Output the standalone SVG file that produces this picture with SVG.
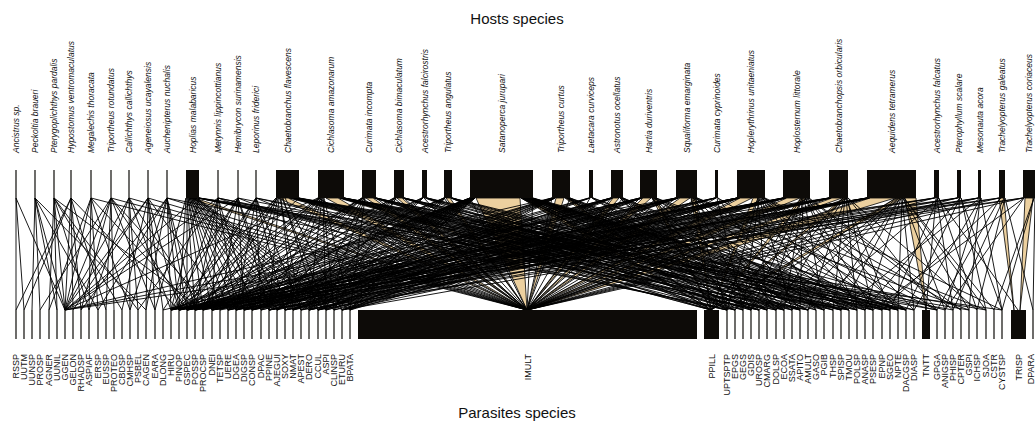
<svg xmlns="http://www.w3.org/2000/svg" width="1035" height="428" viewBox="0 0 1035 428">
<style>
.t{font-family:"Liberation Sans",Arial,sans-serif;font-size:15px;fill:#111;text-anchor:middle}
.h{font-family:"Liberation Sans",Arial,sans-serif;font-size:8.5px;font-style:italic;fill:#111}
.p{font-family:"Liberation Sans",Arial,sans-serif;font-size:9px;fill:#111;text-anchor:end}
.bar{fill:#0d0b08}
.tk{stroke:#0d0b08;stroke-width:1.2}
.k{fill:none;stroke:#000;stroke-width:0.9}
.w{fill:#ecd09f;stroke:#000;stroke-width:0.8}
</style>
<rect width="1035" height="428" fill="#fff"/>
<text class="t" x="517" y="24">Hosts species</text>
<text class="t" x="517" y="418">Parasites species</text>

<g id="links">
<polygon class="w" points="189,198 195,198 527,310"/>
<polygon class="w" points="278,198 288,198 527,310"/>
<polygon class="w" points="289,198 294,198 711,310"/>
<polygon class="w" points="326,198 338,198 527,310"/>
<polygon class="w" points="339,198 344,198 711,310"/>
<polygon class="w" points="366,198 373,198 527,310"/>
<polygon class="w" points="397,198 402,198 527,310"/>
<polygon class="w" points="446,198 450,198 527,310"/>
<polygon class="w" points="476,198 520,198 527,310"/>
<polygon class="w" points="521,198 529,198 711,310"/>
<polygon class="w" points="556,198 564,198 527,310"/>
<polygon class="w" points="565,198 569,198 711,310"/>
<polygon class="w" points="613,198 619,198 527,310"/>
<polygon class="w" points="643,198 651,198 527,310"/>
<polygon class="w" points="652,198 656,198 711,310"/>
<polygon class="w" points="680,198 690,198 527,310"/>
<polygon class="w" points="691,198 696,198 711,310"/>
<polygon class="w" points="740,198 752,198 527,310"/>
<polygon class="w" points="753,198 758,198 711,310"/>
<polygon class="w" points="787,198 800,198 527,310"/>
<polygon class="w" points="801,198 806,198 711,310"/>
<polygon class="w" points="832,198 842,198 527,310"/>
<polygon class="w" points="843,198 847,198 711,310"/>
<polygon class="w" points="870,198 895,198 527,310"/>
<polygon class="w" points="896,198 903,198 711,310"/>
<polygon class="w" points="905,198 916,198 926,310"/>
<polygon class="w" points="999,198 1004,198 1014,310"/>
<polygon class="w" points="1025,198 1033,198 1020,310"/>
<path class="k" d="M16 198L16 310M16 198L65 310M16 198L24 310"/>
<path class="k" d="M35 198L32 310M35 198L65 310M35 198L40 310M35 198L146 310M35 198L57 310M35 198L98 310"/>
<path class="k" d="M54 198L49 310M54 198L65 310M54 198L57 310M54 198L122 310M54 198L203 310M54 198L89 310M54 198L138 310"/>
<path class="k" d="M71 198L65 310M71 198L73 310M71 198L81 310M71 198L24 310M71 198L179 310M71 198L106 310M71 198L16 310"/>
<path class="k" d="M91 198L65 310M91 198L89 310M91 198L98 310M91 198L195 310M91 198L527 310M91 198L49 310M91 198L130 310"/>
<path class="k" d="M111 198L65 310M111 198L106 310M111 198L114 310M111 198L187 310M111 198L527 310M111 198L40 310M111 198L155 310M111 198L81 310M111 198L212 310"/>
<path class="k" d="M129 198L65 310M129 198L130 310M129 198L138 310M129 198L171 310M129 198L527 310M129 198L89 310M129 198L203 310"/>
<path class="k" d="M148 198L65 310M148 198L146 310M148 198L155 310M148 198L163 310M148 198L73 310M148 198L527 310M148 198L122 310M148 198L179 310M148 198L228 310"/>
<path class="k" d="M167 198L171 310M167 198L179 310M167 198L187 310M167 198L527 310M167 198L130 310M167 198L81 310M167 198L735 310M167 198L146 310M167 198L98 310M167 198L195 310"/>
<path class="k" d="M186 198L179 310M187 198L187 310M187 198L195 310M188 198L203 310M188 198L212 310M189 198L220 310M189 198L228 310M190 198L236 310M190 198L244 310M191 198L252 310M191 198L261 310M192 198L269 310M192 198L277 310M193 198L285 310M193 198L293 310M194 198L301 310M194 198L309 310M195 198L318 310M195 198L326 310M196 198L334 310M196 198L342 310M197 198L350 310M197 198L65 310M198 198L727 310M198 198L784 310M199 198L849 310M199 198L171 310M186 198L155 310M198 198L759 310M198 198L808 310M199 198L890 310M199 198L1002 310"/>
<path class="k" d="M218 198L179 310M218 198L212 310M218 198L252 310M218 198L527 310M218 198L776 310M218 198L65 310M218 198L138 310M218 198L195 310M218 198L236 310M218 198L727 310"/>
<path class="k" d="M238 198L187 310M238 198L244 310M238 198L277 310M238 198L527 310M238 198L65 310M238 198L800 310M238 198L163 310M238 198L220 310M238 198L269 310M238 198L171 310"/>
<path class="k" d="M256 198L179 310M256 198L261 310M256 198L301 310M256 198L527 310M256 198L849 310M256 198L203 310M256 198L187 310M256 198L236 310M256 198L285 310M256 198L759 310"/>
<path class="k" d="M277 198L203 310M277 198L236 310M279 198L269 310M281 198L293 310M283 198L318 310M285 198L342 310M290 198L727 310M292 198L759 310M294 198L792 310M296 198L841 310M297 198L890 310M298 198L937 310M299 198L179 310M276 198L171 310M276 198L187 310M277 198L212 310M278 198L252 310M280 198L301 310M282 198L326 310M293 198L743 310M295 198L776 310M296 198L808 310M297 198L857 310M298 198L906 310M299 198L969 310M299 198L527 310"/>
<path class="k" d="M319 198L187 310M320 198L212 310M321 198L252 310M322 198L285 310M323 198L326 310M324 198L350 310M340 198L735 310M341 198L767 310M342 198L808 310M343 198L857 310M344 198L898 310M344 198L953 310M318 198L65 310M318 198L171 310M319 198L195 310M320 198L228 310M321 198L269 310M322 198L309 310M323 198L334 310M341 198L727 310M342 198L751 310M342 198L784 310M343 198L833 310M343 198L873 310M344 198L914 310M344 198L986 310M318 198L527 310"/>
<path class="k" d="M362 198L195 310M363 198L228 310M364 198L309 310M374 198L751 310M375 198L816 310M376 198L882 310M362 198L171 310M362 198L187 310M363 198L212 310M363 198L244 310M364 198L277 310M365 198L326 310M365 198L350 310M374 198L735 310M375 198L767 310M375 198L800 310M376 198L849 310M376 198L898 310M362 198L527 310M376 198L527 310"/>
<path class="k" d="M394 198L179 310M395 198L261 310M396 198L334 310M403 198L743 310M404 198L824 310M404 198L906 310M394 198L195 310M395 198L228 310M395 198L293 310M396 198L318 310M403 198L759 310M403 198L792 310M404 198L841 310M404 198L890 310M394 198L527 310M404 198L527 310"/>
<path class="k" d="M424 198L527 310M422 198L203 310M423 198L277 310M426 198L784 310M427 198L865 310M425 198L711 310M422 198L171 310M423 198L236 310M423 198L309 310M426 198L759 310M427 198L833 310M427 198L937 310"/>
<path class="k" d="M444 198L171 310M445 198L244 310M445 198L318 310M451 198L711 310M452 198L800 310M452 198L873 310M444 198L187 310M444 198L212 310M445 198L277 310M445 198L350 310M451 198L735 310M451 198L767 310M452 198L841 310M452 198L906 310M444 198L527 310"/>
<path class="k" d="M470 198L187 310M471 198L220 310M472 198L269 310M473 198L301 310M474 198L342 310M523 198L735 310M525 198L767 310M527 198L792 310M529 198L833 310M530 198L857 310M531 198L890 310M532 198L914 310M533 198L945 310M470 198L171 310M470 198L179 310M470 198L195 310M471 198L203 310M471 198L212 310M471 198L228 310M472 198L236 310M472 198L244 310M472 198L252 310M473 198L261 310M473 198L277 310M473 198L285 310M474 198L293 310M474 198L309 310M474 198L318 310M475 198L326 310M475 198L334 310M475 198L350 310M521 198L727 310M522 198L743 310M522 198L751 310M523 198L759 310M524 198L776 310M524 198L784 310M526 198L800 310M526 198L808 310M527 198L816 310M528 198L824 310M528 198L841 310M529 198L849 310M530 198L865 310M531 198L873 310M531 198L882 310M532 198L898 310M532 198L906 310M470 198L527 310M533 198L527 310"/>
<path class="k" d="M552 198L195 310M553 198L236 310M554 198L293 310M555 198L326 310M567 198L751 310M568 198L808 310M570 198L841 310M552 198L65 310M552 198L171 310M553 198L203 310M553 198L252 310M554 198L277 310M555 198L309 310M555 198L350 310M566 198L727 310M567 198L767 310M567 198L784 310M568 198L824 310M569 198L857 310M570 198L890 310M552 198L527 310M570 198L527 310"/>
<path class="k" d="M590 198L527 310M589 198L212 310M590 198L285 310M592 198L776 310M593 198L865 310M589 198L179 310M590 198L244 310M592 198L808 310M593 198L898 310"/>
<path class="k" d="M611 198L179 310M612 198L252 310M612 198L318 310M620 198L727 310M622 198L824 310M623 198L898 310M611 198L187 310M611 198L212 310M611 198L236 310M612 198L269 310M612 198L293 310M613 198L342 310M620 198L743 310M621 198L767 310M621 198L800 310M622 198L849 310M623 198L873 310M611 198L527 310M623 198L527 310"/>
<path class="k" d="M640 198L163 310M641 198L228 310M642 198L301 310M642 198L350 310M652 198L759 310M654 198L849 310M656 198L969 310M640 198L179 310M640 198L195 310M641 198L244 310M641 198L269 310M642 198L318 310M652 198L735 310M653 198L784 310M654 198L824 310M655 198L882 310M656 198L906 310M640 198L527 310M657 198L527 310"/>
<path class="k" d="M676 198L187 310M677 198L261 310M678 198L334 310M693 198L784 310M695 198L873 310M697 198L986 310M676 198L65 310M676 198L171 310M676 198L212 310M677 198L228 310M677 198L252 310M678 198L293 310M678 198L318 310M679 198L342 310M691 198L727 310M692 198L751 310M693 198L776 310M694 198L816 310M695 198L857 310M696 198L898 310M697 198L937 310M676 198L527 310M697 198L527 310"/>
<path class="k" d="M716 198L527 310M715 198L203 310M716 198L277 310M717 198L743 310M718 198L906 310M715 198L179 310M715 198L236 310M716 198L318 310M718 198L800 310"/>
<path class="k" d="M737 198L171 310M738 198L212 310M738 198L244 310M739 198L309 310M739 198L342 310M758 198L767 310M760 198L816 310M762 198L882 310M764 198L937 310M765 198L1002 310M737 198L179 310M737 198L187 310M737 198L195 310M738 198L228 310M738 198L261 310M739 198L285 310M739 198L301 310M739 198L326 310M740 198L350 310M758 198L727 310M759 198L743 310M759 198L792 310M761 198L841 310M762 198L865 310M763 198L906 310M764 198L961 310M737 198L527 310M765 198L527 310"/>
<path class="k" d="M783 198L195 310M784 198L236 310M785 198L269 310M786 198L326 310M801 198L735 310M803 198L800 310M805 198L857 310M807 198L914 310M809 198L961 310M783 198L171 310M783 198L187 310M784 198L212 310M784 198L252 310M785 198L285 310M785 198L309 310M786 198L342 310M802 198L751 310M802 198L767 310M803 198L784 310M804 198L824 310M805 198L873 310M806 198L898 310M808 198L953 310M783 198L527 310M810 198L527 310"/>
<path class="k" d="M829 198L220 310M830 198L293 310M843 198L751 310M845 198L833 310M846 198L890 310M848 198L977 310M829 198L65 310M829 198L179 310M829 198L203 310M830 198L244 310M830 198L269 310M831 198L309 310M831 198L334 310M843 198L735 310M844 198L776 310M845 198L808 310M846 198L857 310M847 198L873 310M848 198L937 310M829 198L527 310M848 198L527 310"/>
<path class="k" d="M867 198L187 310M868 198L252 310M869 198L318 310M898 198L776 310M900 198L841 310M902 198L898 310M903 198L945 310M904 198L994 310M867 198L171 310M867 198L195 310M867 198L212 310M868 198L236 310M868 198L269 310M869 198L285 310M869 198L309 310M870 198L342 310M896 198L727 310M897 198L759 310M899 198L792 310M900 198L824 310M901 198L865 310M902 198L914 310M903 198L969 310M904 198L986 310M867 198L527 310"/>
<path class="k" d="M934 198L527 310M935 198L212 310M936 198L926 310M937 198L953 310M938 198L1018 310M939 198L808 310M934 198L179 310M935 198L269 310M938 198L890 310M939 198L977 310"/>
<path class="k" d="M957 198L527 310M958 198L244 310M959 198L961 310M960 198L865 310M961 198L986 310M957 198L195 310M958 198L318 310M960 198L906 310M961 198L1002 310"/>
<path class="k" d="M978 198L527 310M979 198L285 310M980 198L969 310M981 198L914 310M981 198L1002 310M978 198L228 310M979 198L342 310M980 198L841 310M981 198L945 310"/>
<path class="k" d="M999 198L527 310M1000 198L937 310M1005 198L977 310M1005 198L1033 310M999 198L187 310M1000 198L269 310M1001 198L882 310M1004 198L953 310"/>
<path class="k" d="M1023 198L527 310M1024 198L945 310M1034 198L994 310M1023 198L212 310M1023 198L301 310M1024 198L873 310M1034 198L1002 310M1035 198L1033 310"/>
</g>

<g id="hosts">
<g id="h01"><line class="tk" x1="16" y1="170" x2="16" y2="198"/><text class="h" transform="translate(19,153) rotate(-90)">Ancistrus sp.</text></g>
<g id="h02"><line class="tk" x1="35" y1="170" x2="35" y2="198"/><text class="h" transform="translate(38,153) rotate(-90)">Peckoltia braueri</text></g>
<g id="h03"><line class="tk" x1="54" y1="170" x2="54" y2="198"/><text class="h" transform="translate(57,153) rotate(-90)">Pterygoplichthys pardalis</text></g>
<g id="h04"><line class="tk" x1="71" y1="170" x2="71" y2="198"/><text class="h" transform="translate(74,153) rotate(-90)">Hypostomus ventromaculatus</text></g>
<g id="h05"><line class="tk" x1="91" y1="170" x2="91" y2="198"/><text class="h" transform="translate(94,153) rotate(-90)">Megalechis thoracata</text></g>
<g id="h06"><line class="tk" x1="111" y1="170" x2="111" y2="198"/><text class="h" transform="translate(114,153) rotate(-90)">Triportheus rotundatus</text></g>
<g id="h07"><line class="tk" x1="129" y1="170" x2="129" y2="198"/><text class="h" transform="translate(132,153) rotate(-90)">Callichthys callichthys</text></g>
<g id="h08"><line class="tk" x1="148" y1="170" x2="148" y2="198"/><text class="h" transform="translate(151,153) rotate(-90)">Ageneiosus ucayalensis</text></g>
<g id="h09"><line class="tk" x1="167" y1="170" x2="167" y2="198"/><text class="h" transform="translate(170,153) rotate(-90)">Auchenipterus nuchalis</text></g>
<g id="h10"><rect class="bar" x="186" y="170" width="13" height="28"/><text class="h" transform="translate(195.5,153) rotate(-90)">Hoplias malabaricus</text></g>
<g id="h11"><line class="tk" x1="218" y1="170" x2="218" y2="198"/><text class="h" transform="translate(221,153) rotate(-90)">Metynnis lippincottianus</text></g>
<g id="h12"><line class="tk" x1="238" y1="170" x2="238" y2="198"/><text class="h" transform="translate(241,153) rotate(-90)">Hemibrycon surinamensis</text></g>
<g id="h13"><line class="tk" x1="256" y1="170" x2="256" y2="198"/><text class="h" transform="translate(259,153) rotate(-90)">Leporinus friderici</text></g>
<g id="h14"><rect class="bar" x="276" y="170" width="23" height="28"/><text class="h" transform="translate(290.5,153) rotate(-90)">Chaetobranchus flavescens</text></g>
<g id="h15"><rect class="bar" x="318" y="170" width="26" height="28"/><text class="h" transform="translate(334,153) rotate(-90)">Cichlasoma amazonarum</text></g>
<g id="h16"><rect class="bar" x="362" y="170" width="14" height="28"/><text class="h" transform="translate(372,153) rotate(-90)">Curimata incompta</text></g>
<g id="h17"><rect class="bar" x="394" y="170" width="10" height="28"/><text class="h" transform="translate(402,153) rotate(-90)">Cichlasoma bimaculatum</text></g>
<g id="h18"><rect class="bar" x="422" y="170" width="5" height="28"/><text class="h" transform="translate(427.5,153) rotate(-90)">Acestrorhynchus falcirostris</text></g>
<g id="h19"><rect class="bar" x="444" y="170" width="8" height="28"/><text class="h" transform="translate(451,153) rotate(-90)">Triportheus angulatus</text></g>
<g id="h20"><rect class="bar" x="470" y="170" width="63" height="28"/><text class="h" transform="translate(504.5,153) rotate(-90)">Satanoperca jurupari</text></g>
<g id="h21"><rect class="bar" x="552" y="170" width="18" height="28"/><text class="h" transform="translate(564,153) rotate(-90)">Triportheus curtus</text></g>
<g id="h22"><rect class="bar" x="589" y="170" width="4" height="28"/><text class="h" transform="translate(594,153) rotate(-90)">Laetacara curviceps</text></g>
<g id="h23"><rect class="bar" x="611" y="170" width="12" height="28"/><text class="h" transform="translate(620,153) rotate(-90)">Astronotus ocellatus</text></g>
<g id="h24"><rect class="bar" x="640" y="170" width="17" height="28"/><text class="h" transform="translate(651.5,153) rotate(-90)">Hartia duriventris</text></g>
<g id="h25"><rect class="bar" x="676" y="170" width="21" height="28"/><text class="h" transform="translate(689.5,153) rotate(-90)">Squaliforma emarginata</text></g>
<g id="h26"><rect class="bar" x="715" y="170" width="3" height="28"/><text class="h" transform="translate(719.5,153) rotate(-90)">Curimata cyprinoides</text></g>
<g id="h27"><rect class="bar" x="737" y="170" width="28" height="28"/><text class="h" transform="translate(754,153) rotate(-90)">Hoplerythrinus unitaeniatus</text></g>
<g id="h28"><rect class="bar" x="783" y="170" width="27" height="28"/><text class="h" transform="translate(799.5,153) rotate(-90)">Hoplosternum littorale</text></g>
<g id="h29"><rect class="bar" x="829" y="170" width="19" height="28"/><text class="h" transform="translate(841.5,153) rotate(-90)">Chaetobranchopsis orbicularis</text></g>
<g id="h30"><rect class="bar" x="867" y="170" width="49" height="28"/><text class="h" transform="translate(894.5,153) rotate(-90)">Aequidens tetramerus</text></g>
<g id="h31"><rect class="bar" x="934" y="170" width="5" height="28"/><text class="h" transform="translate(939.5,153) rotate(-90)">Acestrorhynchus falcatus</text></g>
<g id="h32"><rect class="bar" x="957" y="170" width="4" height="28"/><text class="h" transform="translate(962,153) rotate(-90)">Pterophyllum scalare</text></g>
<g id="h33"><rect class="bar" x="978" y="170" width="3" height="28"/><text class="h" transform="translate(982.5,153) rotate(-90)">Mesonauta acora</text></g>
<g id="h34"><rect class="bar" x="999" y="170" width="6" height="28"/><text class="h" transform="translate(1005,153) rotate(-90)">Trachelyopterus galeatus</text></g>
<g id="h35"><rect class="bar" x="1023" y="170" width="12" height="28"/><text class="h" transform="translate(1032,153) rotate(-90)">Trachelyopterus coriaceus</text></g>
</g>

<g id="parasites">
<g id="p-RSSP"><line class="tk" x1="16" y1="310" x2="16" y2="339"/><text class="p" transform="translate(19,354) rotate(-90)">RSSP</text></g>
<g id="p-UUTM"><line class="tk" x1="24" y1="310" x2="24" y2="339"/><text class="p" transform="translate(27,354) rotate(-90)">UUTM</text></g>
<g id="p-UUNSP"><line class="tk" x1="32" y1="310" x2="32" y2="339"/><text class="p" transform="translate(35,354) rotate(-90)">UUNSP</text></g>
<g id="p-PROSP"><line class="tk" x1="40" y1="310" x2="40" y2="339"/><text class="p" transform="translate(43,354) rotate(-90)">PROSP</text></g>
<g id="p-AGNER"><line class="tk" x1="49" y1="310" x2="49" y2="339"/><text class="p" transform="translate(52,354) rotate(-90)">AGNER</text></g>
<g id="p-UUNIL"><line class="tk" x1="57" y1="310" x2="57" y2="339"/><text class="p" transform="translate(60,354) rotate(-90)">UUNIL</text></g>
<g id="p-GGEN"><line class="tk" x1="65" y1="310" x2="65" y2="339"/><text class="p" transform="translate(68,354) rotate(-90)">GGEN</text></g>
<g id="p-GELON"><line class="tk" x1="73" y1="310" x2="73" y2="339"/><text class="p" transform="translate(76,354) rotate(-90)">GELON</text></g>
<g id="p-RHADSP"><line class="tk" x1="81" y1="310" x2="81" y2="339"/><text class="p" transform="translate(84,354) rotate(-90)">RHADSP</text></g>
<g id="p-ASPIAF"><line class="tk" x1="89" y1="310" x2="89" y2="339"/><text class="p" transform="translate(92,354) rotate(-90)">ASPIAF</text></g>
<g id="p-ERSP"><line class="tk" x1="98" y1="310" x2="98" y2="339"/><text class="p" transform="translate(101,354) rotate(-90)">ERSP</text></g>
<g id="p-EUSSP"><line class="tk" x1="106" y1="310" x2="106" y2="339"/><text class="p" transform="translate(109,354) rotate(-90)">EUSSP</text></g>
<g id="p-PROTEO"><line class="tk" x1="114" y1="310" x2="114" y2="339"/><text class="p" transform="translate(117,354) rotate(-90)">PROTEO</text></g>
<g id="p-CBDSP"><line class="tk" x1="122" y1="310" x2="122" y2="339"/><text class="p" transform="translate(125,354) rotate(-90)">CBDSP</text></g>
<g id="p-CMHSP"><line class="tk" x1="130" y1="310" x2="130" y2="339"/><text class="p" transform="translate(133,354) rotate(-90)">CMHSP</text></g>
<g id="p-PSBEL"><line class="tk" x1="138" y1="310" x2="138" y2="339"/><text class="p" transform="translate(141,354) rotate(-90)">PSBEL</text></g>
<g id="p-CAGEN"><line class="tk" x1="146" y1="310" x2="146" y2="339"/><text class="p" transform="translate(149,354) rotate(-90)">CAGEN</text></g>
<g id="p-EARA"><line class="tk" x1="155" y1="310" x2="155" y2="339"/><text class="p" transform="translate(158,354) rotate(-90)">EARA</text></g>
<g id="p-DLONG"><line class="tk" x1="163" y1="310" x2="163" y2="339"/><text class="p" transform="translate(166,354) rotate(-90)">DLONG</text></g>
<g id="p-HIRU"><line class="tk" x1="171" y1="310" x2="171" y2="339"/><text class="p" transform="translate(174,354) rotate(-90)">HIRU</text></g>
<g id="p-PINOP"><line class="tk" x1="179" y1="310" x2="179" y2="339"/><text class="p" transform="translate(182,354) rotate(-90)">PINOP</text></g>
<g id="p-GSPEC"><line class="tk" x1="187" y1="310" x2="187" y2="339"/><text class="p" transform="translate(190,354) rotate(-90)">GSPEC</text></g>
<g id="p-POSSP"><line class="tk" x1="195" y1="310" x2="195" y2="339"/><text class="p" transform="translate(198,354) rotate(-90)">POSSP</text></g>
<g id="p-PROCSP"><line class="tk" x1="203" y1="310" x2="203" y2="339"/><text class="p" transform="translate(206,354) rotate(-90)">PROCSP</text></g>
<g id="p-DNEI"><line class="tk" x1="212" y1="310" x2="212" y2="339"/><text class="p" transform="translate(215,354) rotate(-90)">DNEI</text></g>
<g id="p-TETSP"><line class="tk" x1="220" y1="310" x2="220" y2="339"/><text class="p" transform="translate(223,354) rotate(-90)">TETSP</text></g>
<g id="p-UERE"><line class="tk" x1="228" y1="310" x2="228" y2="339"/><text class="p" transform="translate(231,354) rotate(-90)">UERE</text></g>
<g id="p-DGEA"><line class="tk" x1="236" y1="310" x2="236" y2="339"/><text class="p" transform="translate(239,354) rotate(-90)">DGEA</text></g>
<g id="p-DIGSP"><line class="tk" x1="244" y1="310" x2="244" y2="339"/><text class="p" transform="translate(247,354) rotate(-90)">DIGSP</text></g>
<g id="p-CONSP"><line class="tk" x1="252" y1="310" x2="252" y2="339"/><text class="p" transform="translate(255,354) rotate(-90)">CONSP</text></g>
<g id="p-DPAC"><line class="tk" x1="261" y1="310" x2="261" y2="339"/><text class="p" transform="translate(264,354) rotate(-90)">DPAC</text></g>
<g id="p-PPINE"><line class="tk" x1="269" y1="310" x2="269" y2="339"/><text class="p" transform="translate(272,354) rotate(-90)">PPINE</text></g>
<g id="p-AJEGUI"><line class="tk" x1="277" y1="310" x2="277" y2="339"/><text class="p" transform="translate(280,354) rotate(-90)">AJEGUI</text></g>
<g id="p-SOXY"><line class="tk" x1="285" y1="310" x2="285" y2="339"/><text class="p" transform="translate(288,354) rotate(-90)">SOXY</text></g>
<g id="p-NMAT"><line class="tk" x1="293" y1="310" x2="293" y2="339"/><text class="p" transform="translate(296,354) rotate(-90)">NMAT</text></g>
<g id="p-APEST"><line class="tk" x1="301" y1="310" x2="301" y2="339"/><text class="p" transform="translate(304,354) rotate(-90)">APEST</text></g>
<g id="p-DERO"><line class="tk" x1="309" y1="310" x2="309" y2="339"/><text class="p" transform="translate(312,354) rotate(-90)">DERO</text></g>
<g id="p-CCUL"><line class="tk" x1="318" y1="310" x2="318" y2="339"/><text class="p" transform="translate(321,354) rotate(-90)">CCUL</text></g>
<g id="p-ASPI"><line class="tk" x1="326" y1="310" x2="326" y2="339"/><text class="p" transform="translate(329,354) rotate(-90)">ASPI</text></g>
<g id="p-CLINSP"><line class="tk" x1="334" y1="310" x2="334" y2="339"/><text class="p" transform="translate(337,354) rotate(-90)">CLINSP</text></g>
<g id="p-ETURU"><line class="tk" x1="342" y1="310" x2="342" y2="339"/><text class="p" transform="translate(345,354) rotate(-90)">ETURU</text></g>
<g id="p-BPATA"><line class="tk" x1="350" y1="310" x2="350" y2="339"/><text class="p" transform="translate(353,354) rotate(-90)">BPATA</text></g>
<g id="p-IMULT"><rect class="bar" x="358" y="310" width="339" height="29"/><text class="p" transform="translate(530.5,354) rotate(-90)">IMULT</text></g>
<g id="p-PPILL"><rect class="bar" x="704" y="310" width="15" height="29"/><text class="p" transform="translate(714.5,354) rotate(-90)">PPILL</text></g>
<g id="p-UPTSPTP"><line class="tk" x1="727" y1="310" x2="727" y2="339"/><text class="p" transform="translate(730,354) rotate(-90)">UPTSPTP</text></g>
<g id="p-EPGS"><line class="tk" x1="735" y1="310" x2="735" y2="339"/><text class="p" transform="translate(738,354) rotate(-90)">EPGS</text></g>
<g id="p-GEGS"><line class="tk" x1="743" y1="310" x2="743" y2="339"/><text class="p" transform="translate(746,354) rotate(-90)">GEGS</text></g>
<g id="p-GDIS"><line class="tk" x1="751" y1="310" x2="751" y2="339"/><text class="p" transform="translate(754,354) rotate(-90)">GDIS</text></g>
<g id="p-UROSP"><line class="tk" x1="759" y1="310" x2="759" y2="339"/><text class="p" transform="translate(762,354) rotate(-90)">UROSP</text></g>
<g id="p-CMARG"><line class="tk" x1="767" y1="310" x2="767" y2="339"/><text class="p" transform="translate(770,354) rotate(-90)">CMARG</text></g>
<g id="p-DOLSP"><line class="tk" x1="776" y1="310" x2="776" y2="339"/><text class="p" transform="translate(779,354) rotate(-90)">DOLSP</text></g>
<g id="p-ECOA"><line class="tk" x1="784" y1="310" x2="784" y2="339"/><text class="p" transform="translate(787,354) rotate(-90)">ECOA</text></g>
<g id="p-SSATA"><line class="tk" x1="792" y1="310" x2="792" y2="339"/><text class="p" transform="translate(795,354) rotate(-90)">SSATA</text></g>
<g id="p-APITO"><line class="tk" x1="800" y1="310" x2="800" y2="339"/><text class="p" transform="translate(803,354) rotate(-90)">APITO</text></g>
<g id="p-AMULT"><line class="tk" x1="808" y1="310" x2="808" y2="339"/><text class="p" transform="translate(811,354) rotate(-90)">AMULT</text></g>
<g id="p-GASO"><line class="tk" x1="816" y1="310" x2="816" y2="339"/><text class="p" transform="translate(819,354) rotate(-90)">GASO</text></g>
<g id="p-PGIB"><line class="tk" x1="824" y1="310" x2="824" y2="339"/><text class="p" transform="translate(827,354) rotate(-90)">PGIB</text></g>
<g id="p-THSP"><line class="tk" x1="833" y1="310" x2="833" y2="339"/><text class="p" transform="translate(836,354) rotate(-90)">THSP</text></g>
<g id="p-SPISP"><line class="tk" x1="841" y1="310" x2="841" y2="339"/><text class="p" transform="translate(844,354) rotate(-90)">SPISP</text></g>
<g id="p-TMOU"><line class="tk" x1="849" y1="310" x2="849" y2="339"/><text class="p" transform="translate(852,354) rotate(-90)">TMOU</text></g>
<g id="p-POLSP"><line class="tk" x1="857" y1="310" x2="857" y2="339"/><text class="p" transform="translate(860,354) rotate(-90)">POLSP</text></g>
<g id="p-ANASP"><line class="tk" x1="865" y1="310" x2="865" y2="339"/><text class="p" transform="translate(868,354) rotate(-90)">ANASP</text></g>
<g id="p-PSESP"><line class="tk" x1="873" y1="310" x2="873" y2="339"/><text class="p" transform="translate(876,354) rotate(-90)">PSESP</text></g>
<g id="p-EPNP"><line class="tk" x1="882" y1="310" x2="882" y2="339"/><text class="p" transform="translate(885,354) rotate(-90)">EPNP</text></g>
<g id="p-SGEO"><line class="tk" x1="890" y1="310" x2="890" y2="339"/><text class="p" transform="translate(893,354) rotate(-90)">SGEO</text></g>
<g id="p-NPTE"><line class="tk" x1="898" y1="310" x2="898" y2="339"/><text class="p" transform="translate(901,354) rotate(-90)">NPTE</text></g>
<g id="p-DACGSP"><line class="tk" x1="906" y1="310" x2="906" y2="339"/><text class="p" transform="translate(909,354) rotate(-90)">DACGSP</text></g>
<g id="p-DIASP"><line class="tk" x1="914" y1="310" x2="914" y2="339"/><text class="p" transform="translate(917,354) rotate(-90)">DIASP</text></g>
<g id="p-TNTT"><rect class="bar" x="922" y="310" width="8" height="29"/><text class="p" transform="translate(929,354) rotate(-90)">TNTT</text></g>
<g id="p-GPGA"><line class="tk" x1="937" y1="310" x2="937" y2="339"/><text class="p" transform="translate(940,354) rotate(-90)">GPGA</text></g>
<g id="p-ANIGSP"><line class="tk" x1="945" y1="310" x2="945" y2="339"/><text class="p" transform="translate(948,354) rotate(-90)">ANIGSP</text></g>
<g id="p-PHISP"><line class="tk" x1="953" y1="310" x2="953" y2="339"/><text class="p" transform="translate(956,354) rotate(-90)">PHISP</text></g>
<g id="p-CPTER"><line class="tk" x1="961" y1="310" x2="961" y2="339"/><text class="p" transform="translate(964,354) rotate(-90)">CPTER</text></g>
<g id="p-GSPI"><line class="tk" x1="969" y1="310" x2="969" y2="339"/><text class="p" transform="translate(972,354) rotate(-90)">GSPI</text></g>
<g id="p-ICHSP"><line class="tk" x1="977" y1="310" x2="977" y2="339"/><text class="p" transform="translate(980,354) rotate(-90)">ICHSP</text></g>
<g id="p-SJOA"><line class="tk" x1="986" y1="310" x2="986" y2="339"/><text class="p" transform="translate(989,354) rotate(-90)">SJOA</text></g>
<g id="p-CSTR"><line class="tk" x1="994" y1="310" x2="994" y2="339"/><text class="p" transform="translate(997,354) rotate(-90)">CSTR</text></g>
<g id="p-CYSTSP"><line class="tk" x1="1002" y1="310" x2="1002" y2="339"/><text class="p" transform="translate(1005,354) rotate(-90)">CYSTSP</text></g>
<g id="p-TRISP"><rect class="bar" x="1011" y="310" width="15" height="29"/><text class="p" transform="translate(1021.5,354) rotate(-90)">TRISP</text></g>
<g id="p-DPARA"><line class="tk" x1="1033" y1="310" x2="1033" y2="339"/><text class="p" transform="translate(1034,354) rotate(-90)">DPARA</text></g>
</g>
</svg>
